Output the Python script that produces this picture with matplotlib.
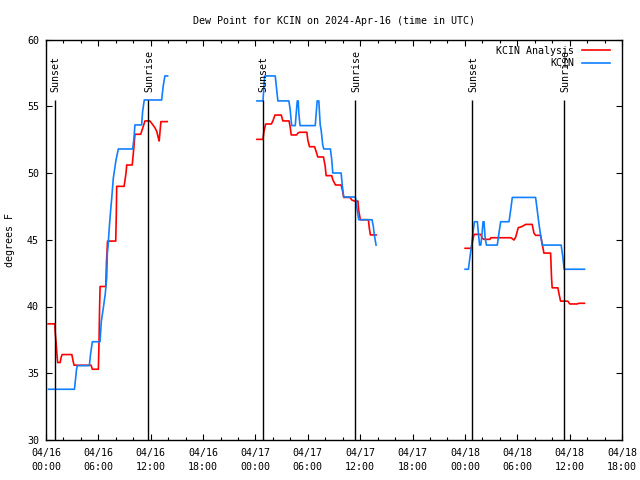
import numpy as np
import matplotlib
matplotlib.use("Agg")
import matplotlib.pyplot as plt
from matplotlib.lines import Line2D
from matplotlib.ticker import MultipleLocator

nan = float("nan")

title = "Dew Point for KCIN on 2024-Apr-16 (time in UTC)"
ylabel = "degrees F"
series_names = ["KCIN Analysis", "KCIN"]

xtick_hours = [0, 6, 12, 18, 24, 30, 36, 42, 48, 54, 60, 66]
xtick_labels = ["04/16\n00:00", "04/16\n06:00", "04/16\n12:00", "04/16\n18:00",
                "04/17\n00:00", "04/17\n06:00", "04/17\n12:00", "04/17\n18:00",
                "04/18\n00:00", "04/18\n06:00", "04/18\n12:00", "04/18\n18:00"]

sun_hours = [1.02, 11.71, 24.86, 35.45, 48.86, 59.37]
sun_labels = ["Sunset", "Sunrise", "Sunset", "Sunrise", "Sunset", "Sunrise"]
sun_line_top = 55.5

# KCIN Analysis (red): hours since 04/16 00:00 UTC, dew point degF
ana_h = [0.25, 1.02, 1.05, 1.17, 1.28, 1.34, 1.62, 1.74, 1.85, 2.96, 3.11, 3.22,
         5.17, 5.31, 6.00, 6.08, 6.14, 6.20, 6.85, 6.93, 7.05, 7.99, 8.06, 8.10,
         8.95, 9.17, 9.25, 9.88, 10.08, 10.19, 10.85, 11.10, 11.34, 11.90, 12.14,
         12.47, 12.70, 12.88, 12.97, 13.09, 13.17, 13.89,
         nan,
         24.17, 24.86, 24.97, 25.17, 25.82, 26.00, 26.23, 26.96, 27.14, 27.85,
         27.99, 28.10, 28.71, 28.88, 29.05, 29.89, 30.00, 30.19, 30.77, 30.96,
         31.14, 31.79, 31.99, 32.10, 32.74, 32.86, 33.17, 33.82, 34.00, 34.11,
         34.85, 35.03, 35.34, 35.74, 35.83, 36.02, 36.94, 37.05, 37.17, 37.82,
         nan,
         48.02, 48.74, 48.86, 49.05, 49.82, 50.00, 50.19, 50.85, 50.96, 53.28,
         53.62, 53.82, 54.11, 54.57, 54.96, 55.71, 55.91, 56.10, 56.67, 56.86,
         57.05, 57.82, 57.93, 58.00, 58.65, 58.77, 58.96, 59.79, 60.02, 60.86,
         61.05, 61.70]
ana_v = [38.7, 38.7, 38.1, 37.2, 36.2, 35.8, 35.8, 36.2, 36.4, 36.4, 35.9, 35.6,
         35.6, 35.3, 35.3, 37.5, 39.9, 41.5, 41.5, 43.3, 44.9, 44.9, 47.0, 49.0,
         49.0, 50.0, 50.6, 50.6, 52.0, 52.9, 52.9, 53.4, 53.9, 53.9, 53.7,
         53.4, 53.1, 52.6, 52.4, 53.3, 53.85, 53.85,
         nan,
         52.52, 52.52, 53.1, 53.67, 53.67, 53.9, 54.34, 54.34, 53.9, 53.9,
         53.4, 52.85, 52.85, 53.0, 53.05, 53.05, 52.47, 51.97, 51.97, 51.6,
         51.2, 51.2, 50.5, 49.8, 49.8, 49.5, 49.1, 49.1, 48.6, 48.17,
         48.17, 47.98, 47.9, 47.9, 47.2, 46.5, 46.5, 45.85, 45.36, 45.36,
         nan,
         44.36, 44.36, 44.86, 45.4, 45.4, 45.1, 45.03, 45.03, 45.15, 45.15,
         44.98, 45.2, 45.9, 46.0, 46.15, 46.15, 45.5, 45.33, 45.33, 44.7,
         44.0, 44.0, 42.1, 41.4, 41.4, 41.0, 40.4, 40.4, 40.19, 40.19,
         40.24, 40.24]

# KCIN observations (blue)
obs_h = [0.29, 3.26, 3.39, 3.50, 3.60, 4.97, 5.10, 5.31, 6.19, 6.34, 6.57, 6.80,
         6.96, 7.03, 7.11, 7.26, 7.42, 7.53, 7.71, 8.02, 8.29, 9.93, 10.08, 10.19,
         10.96, 11.07, 11.26, 13.25, 13.43, 13.62, 13.93,
         nan,
         24.17, 24.86, 25.05, 26.27, 26.39, 26.57, 27.83, 27.99, 28.10, 28.17,
         28.56, 28.67, 28.79, 28.90, 28.97, 29.11, 30.85, 30.96, 31.07, 31.26,
         31.42, 31.53, 31.71, 31.83, 32.59, 32.74, 32.86, 33.82, 33.93, 34.11,
         35.45, 35.60, 35.83, 37.36, 37.51, 37.62, 37.82,
         nan,
         48.02, 48.40, 48.56, 48.79, 48.94, 49.09, 49.43, 49.54, 49.68, 49.82,
         49.97, 50.08, 50.19, 50.31, 50.46, 51.71, 51.90, 52.10, 53.05, 53.24,
         53.43, 56.10, 56.29, 56.48, 56.67, 56.86, 59.03, 59.22, 59.37, 61.70]
obs_v = [33.8, 33.8, 34.6, 35.3, 35.57, 35.57, 36.4, 37.36, 37.36, 38.9, 39.9, 41.0,
         42.2, 44.0, 44.5, 46.0, 47.3, 48.1, 49.6, 50.97, 51.8, 51.8, 52.6, 53.6,
         53.6, 54.6, 55.47, 55.47, 56.5, 57.27, 57.27,
         nan,
         55.4, 55.4, 57.27, 57.27, 56.5, 55.4, 55.4, 54.7, 53.85, 53.55,
         53.55, 54.47, 55.4, 55.4, 54.47, 53.55, 53.55, 54.47, 55.4, 55.4,
         53.6, 53.2, 52.1, 51.8, 51.8, 51.0, 50.0, 50.0, 49.2, 48.2,
         48.2, 47.5, 46.5, 46.5, 45.98, 45.36, 44.6,
         nan,
         42.79, 42.79, 43.6, 44.7, 45.6, 46.35, 46.35, 45.5, 44.6, 44.6,
         45.5, 46.35, 46.35, 45.2, 44.6, 44.6, 45.5, 46.35, 46.35, 47.2,
         48.17, 48.17, 47.2, 46.2, 45.36, 44.6, 44.6, 43.7, 42.79, 42.79]

red = "#ff0000"
blue = "#1080ff"
font = "DejaVu Sans Mono"
fs = 7.2

plt.rcParams["font.family"] = font
plt.rcParams["font.size"] = fs

fig = plt.figure(figsize=(6.4, 4.8), dpi=100)
ax = fig.add_axes([46 / 640, 1 - 440 / 480, 576 / 640, 400.5 / 480])

ax.plot(ana_h, ana_v, color=red, lw=1.2)
ax.plot(obs_h, obs_v, color=blue, lw=1.2)

ax.vlines(sun_hours, 30, sun_line_top, color="black", lw=1.0)
for h, lab in zip(sun_hours, sun_labels):
    ax.text(h + 0.1, 56.05, lab, rotation=90, ha="center", va="bottom",
            fontsize=fs, family=font)

ax.set_xlim(0, 66)
ax.set_ylim(30, 60)
ax.set_xticks(xtick_hours)
ax.set_xticklabels(xtick_labels)
for t in ax.get_xticklabels():
    t.set_linespacing(1.45)
ax.xaxis.set_minor_locator(MultipleLocator(2))
ax.yaxis.set_major_locator(MultipleLocator(5))
ax.tick_params(axis="both", which="both", direction="in", top=True, right=True,
               width=0.8, labelsize=fs)
ax.tick_params(axis="both", which="major", length=4)
ax.tick_params(axis="x", which="minor", length=2.2)
ax.tick_params(axis="x", which="major", pad=6)
ax.tick_params(axis="y", which="major", pad=5)
for s in ax.spines.values():
    s.set_linewidth(1.0)

ax.set_title(title, fontsize=fs, pad=11)
ax.set_ylabel(ylabel, fontsize=fs)
ax.yaxis.set_label_coords(-31 / 576, 0.5)

handles = [Line2D([], [], color=red, lw=1.2), Line2D([], [], color=blue, lw=1.2)]
ax.legend(handles, series_names, loc="upper right", bbox_to_anchor=(1 - 6 / 576, 1),
          frameon=False, markerfirst=False,
          handlelength=2.8, handletextpad=0.8, labelspacing=0.25,
          borderaxespad=0.3, borderpad=0.3, fontsize=fs)

fig.savefig("out.png", dpi=100)
